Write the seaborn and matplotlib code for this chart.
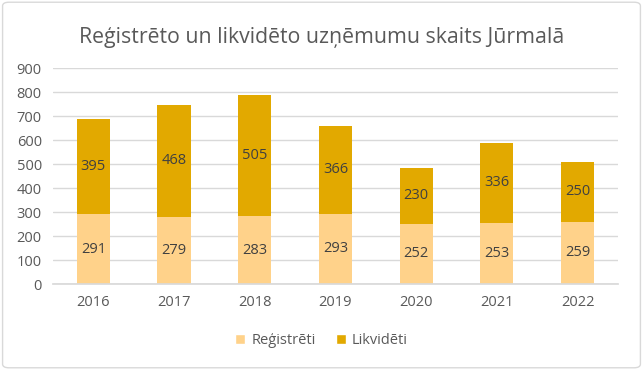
import matplotlib
matplotlib.use("Agg")
import matplotlib.pyplot as plt
import seaborn as sns
import pandas as pd
from matplotlib.patches import FancyBboxPatch, Patch

years = ["2016", "2017", "2018", "2019", "2020", "2021", "2022"]
registered = [291, 279, 283, 293, 252, 253, 259]
liquidated = [395, 468, 505, 366, 230, 336, 250]
title = "Reģistrēto un likvidēto uzņēmumu skaits Jūrmalā"
series_names = ["Reģistrēti", "Likvidēti"]

c_light = "#FFD28A"
c_dark = "#E2A900"
txt = "#595959"

sns.set_theme(style="white")
plt.rcParams["font.family"] = ["Open Sans", "DejaVu Sans"]

df = pd.DataFrame({"year": years, "reg": registered, "liq": liquidated})
df["total"] = df["reg"] + df["liq"]

fig = plt.figure(figsize=(6.43, 3.70), dpi=100)
ax = fig.add_axes([0.0824, 0.2324, 0.961 - 0.0824, 0.8162 - 0.2324])

sns.barplot(data=df, x="year", y="total", color=c_dark, width=0.41, ax=ax,
            saturation=1, edgecolor="none")
sns.barplot(data=df, x="year", y="reg", color=c_light, width=0.41, ax=ax,
            saturation=1, edgecolor="none")

ax.bar_label(ax.containers[1], labels=[str(v) for v in registered],
             label_type="center", color="#404040", fontsize=10.5)
for i, (r, l) in enumerate(zip(registered, liquidated)):
    ax.text(i, r + l / 2, str(l), ha="center", va="center", color="#404040", fontsize=10.5)

ax.set_ylim(0, 900)
ax.set_yticks(range(0, 901, 100))
ax.set_xlim(-0.5, 6.5)
ax.yaxis.grid(True, color="#D9D9D9", linewidth=1)
ax.set_axisbelow(True)
for s in ["top", "right", "left"]:
    ax.spines[s].set_visible(False)
ax.spines["bottom"].set_color("#D9D9D9")
ax.set_xlabel("")
ax.set_ylabel("")
ax.tick_params(axis="both", length=0, colors=txt, labelsize=10.5)
ax.tick_params(axis="x", pad=8)
ax.tick_params(axis="y", pad=8)

fig.text(0.5, 0.9, title, ha="center", va="center", fontsize=15.3, color=txt)

handles = [Patch(facecolor=c_light, label=series_names[0]),
           Patch(facecolor=c_dark, label=series_names[1])]
leg = fig.legend(handles=handles, loc="center", bbox_to_anchor=(0.5, 0.08), ncol=2,
                 frameon=False, fontsize=10.5, handlelength=0.7, handleheight=0.7,
                 columnspacing=1.4, handletextpad=0.4)
for t in leg.get_texts():
    t.set_color(txt)

border = FancyBboxPatch((0.004, 0.006), 0.992, 0.988, boxstyle="round,pad=0,rounding_size=0.01",
                        transform=fig.transFigure, fill=False, edgecolor="#D9D9D9", linewidth=1)
fig.patches.append(border)

fig.savefig("out.png", dpi=100, facecolor="white")
